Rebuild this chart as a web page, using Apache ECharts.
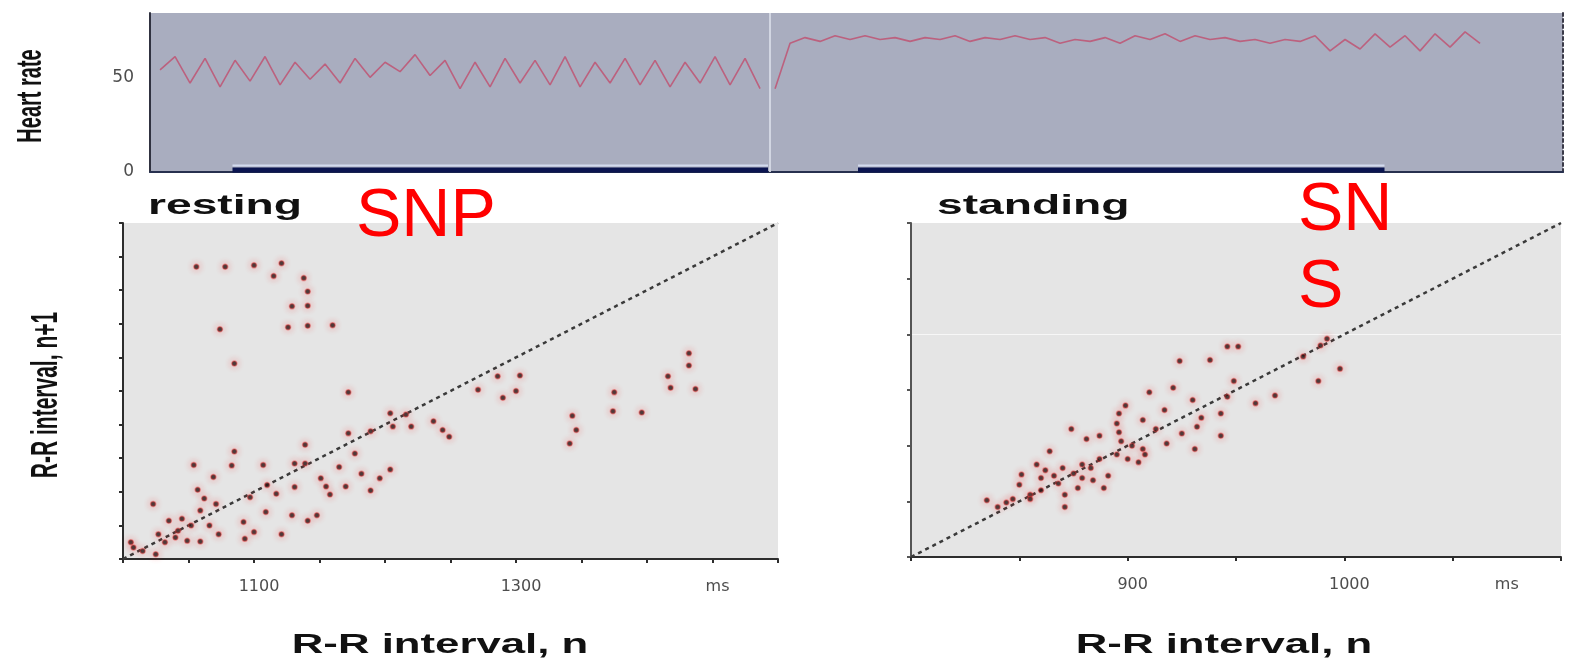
<!DOCTYPE html>
<html>
<head>
<meta charset="utf-8">
<script src="https://cdn.jsdelivr.net/npm/echarts@6/dist/echarts.min.js"></script>
<style>
html, body { margin: 0; padding: 0; background: #fff; }
#main { width: 1570px; height: 661px; }
</style>
</head>
<body>
<div id="main"></div>
<script>
// heart rate, one value per half beat cycle (top strip)
var hrRest = [54, 61, 47, 60, 45, 59, 48, 61, 46, 58, 49, 57, 47, 60, 50, 58, 53, 62, 51, 59, 44,
              58, 45, 60, 47, 59, 46, 61, 45, 58, 47, 60, 46, 59, 45, 58, 47, 61, 46, 60, 44];
var hrStand = [44, 68, 71, 69, 72, 70, 72, 70, 71, 69, 71, 70, 72, 69, 71, 70, 72, 70, 71, 68, 70, 69, 71, 68,
               72, 70, 73, 69, 72, 70, 71, 69, 70, 68, 70, 69, 72, 64, 70, 65, 73, 66, 72, 64, 73, 66, 74, 68];
var hrRestStart = 0.67;
var hrStandStart = 41.67;
var hrSplit = 41.33;
var restMarker = [5.5, 41.2];
var standMarker = [47.2, 82.3];
var hrTicks = [0, 50];

// Poincare plots: R-R interval n vs n+1 (ms)
var restN = [1056, 1078, 1100, 1121, 1115, 1138, 1141, 1129, 1141, 1126, 1141, 1160, 1074, 1085,
             1172, 1271, 1290, 1300, 1286, 1303,
             1216, 1220, 1206, 1237, 1244, 1249, 1204, 1189,
             1343, 1346, 1341, 1375, 1374, 1396, 1416, 1418, 1432, 1432, 1437,
             1177, 1172, 1165, 1139, 1139, 1131, 1107, 1085, 1083, 1054, 1069, 1057,
             1110, 1117, 1131, 1155, 1158, 1170, 1182, 1196, 1204, 1189, 1151,
             1097, 1071, 1023, 1059, 1045, 1035, 1066, 1092, 1109, 1129, 1141, 1148,
             1100, 1121, 1093, 1073, 1049, 1059, 1042, 1027, 1006, 1008, 1025, 1032,
             1052, 1040, 1015, 1062];
var restN1 = [1435, 1435, 1437, 1440, 1421, 1418, 1398, 1376, 1377, 1345, 1347, 1348, 1342, 1291,
              1248, 1252, 1240, 1250, 1272, 1273,
              1215, 1197, 1197, 1205, 1192, 1182, 1217, 1190,
              1213, 1192, 1172, 1248, 1220, 1218, 1272, 1255, 1306, 1288, 1253,
              1157, 1187, 1137, 1170, 1142, 1142, 1140, 1160, 1139, 1140, 1122, 1103,
              1110, 1097, 1107, 1108, 1096, 1108, 1127, 1120, 1133, 1102, 1120,
              1092, 1082, 1082, 1072, 1060, 1057, 1050, 1055, 1070, 1065, 1057, 1065,
              1040, 1037, 1030, 1037, 1027, 1026, 1042, 1037, 1025, 1017, 1007, 1025,
              1050, 1032, 1012, 1090];
var standN = [946, 951, 924, 938, 989, 992, 998, 988, 981, 949, 968, 959, 946, 921, 910, 899, 896, 917,
              907, 930, 943, 932, 925, 896, 874, 881, 887, 931, 943, 907, 908, 895, 887, 879, 870, 883,
              864, 858, 851, 860, 866, 879, 891, 889, 877, 871, 855, 850, 847, 855, 835, 844, 871, 897,
              902, 913, 900, 868, 862, 875, 884, 905, 918, 860, 840, 895, 934];
var standN1 = [989, 989, 976, 977, 990, 996, 969, 958, 980, 958, 945, 938, 944, 952, 948, 936, 929, 932,
               923, 941, 929, 917, 911, 912, 915, 906, 909, 897, 909, 897, 892, 892, 888, 883, 880, 880,
               895, 883, 874, 871, 873, 871, 873, 862, 862, 856, 856, 865, 852, 852, 851, 849, 845, 904,
               900, 915, 888, 866, 878, 875, 869, 885, 902, 860, 845, 920, 925];
var restRange = [1000, 1500];
var standRange = [800, 1100];
var restTickVals = [1100, 1300, 1450];
var restTickText = ['1100', '1300', 'ms'];
var standTickVals = [900, 1000];
var standTickText = ['900', '1000'];
var standUnitAt = 1075;

function pairs(a, b) {
    return a.map(function (v, i) { return [v, b[i]]; });
}
function tickFormatter(vals, texts) {
    return function (v) {
        var k = vals.indexOf(v);
        return k < 0 ? '' : texts[k];
    };
}

var tickLabel = { fontFamily: 'DejaVu Sans', fontSize: 16, color: '#4d4d4d', margin: 20, padding: [0, 0, 0, 10] };
var darkAxis = { lineStyle: { color: '#2d2d2d', width: 2 } };
var darkTick = { show: true, length: 4, inside: false, lineStyle: { color: '#2d2d2d', width: 2 } };
var dotStyle = {
    color: '#1e1414',
    borderColor: 'rgba(235,60,60,0.55)',
    borderWidth: 1.5,
    shadowBlur: 7,
    shadowColor: 'rgba(255,40,40,0.55)'
};

function bigText(str, x, y, opts) {
    return {
        type: 'text',
        x: x, y: y,
        rotation: opts.rotation || 0,
        scaleX: opts.scaleX || 1,
        scaleY: opts.scaleY || 1,
        silent: true,
        style: {
            text: str,
            fill: opts.fill || '#111',
            font: opts.font,
            textAlign: opts.align || 'center', align: opts.align || 'center',
            textVerticalAlign: 'middle', verticalAlign: 'middle'
        }
    };
}

var chart = echarts.init(document.getElementById('main'));
var option = {
    backgroundColor: '#ffffff',
    animation: false,
    grid: [
        { left: 150, right: 7, top: 13, height: 159, show: true, backgroundColor: '#a9adbf', borderWidth: 0 },
        { left: 123, top: 223, width: 655, height: 336, show: true, backgroundColor: '#e5e5e5', borderWidth: 0 },
        { left: 911, top: 223, width: 650, height: 334, show: true, backgroundColor: '#e5e5e5', borderWidth: 0 }
    ],
    xAxis: [
        { gridIndex: 0, type: 'value', min: 0, max: 94.2,
          axisLine: { lineStyle: { color: '#27304f', width: 2 } },
          axisTick: { show: false }, axisLabel: { show: false }, splitLine: { show: false } },
        { gridIndex: 1, type: 'value', min: restRange[0], max: restRange[1], interval: 50,
          axisLine: darkAxis, axisTick: darkTick,
          axisLabel: Object.assign({ formatter: tickFormatter(restTickVals, restTickText) }, tickLabel),
          splitLine: { show: false } },
        { gridIndex: 2, type: 'value', min: standRange[0], max: standRange[1], interval: 50,
          axisLine: darkAxis, axisTick: darkTick,
          axisLabel: Object.assign({ formatter: tickFormatter(standTickVals, standTickText) }, tickLabel),
          splitLine: { show: false } },
        // unit label of the standing plot sits between two ticks
        { gridIndex: 2, type: 'value', min: standRange[0], max: standRange[1], interval: 25, position: 'bottom',
          axisLine: { show: false }, axisTick: { show: false }, splitLine: { show: false },
          axisLabel: Object.assign({}, tickLabel, { padding: 0,
              formatter: function (v) { return v === standUnitAt ? 'ms' : ''; } }) }
    ],
    yAxis: [
        { gridIndex: 0, type: 'value', min: 0, max: 84, interval: 50,
          axisLine: { show: true, lineStyle: { color: '#303240', width: 2 } },
          axisTick: { show: false },
          axisLabel: Object.assign({}, tickLabel, { margin: 16, padding: 0, fontSize: 17,
              formatter: function (v) { return hrTicks.indexOf(v) < 0 ? '' : String(v); } }),
          splitLine: { show: false } },
        { gridIndex: 1, type: 'value', min: restRange[0], max: restRange[1], interval: 50,
          axisLine: darkAxis, axisTick: darkTick, axisLabel: { show: false }, splitLine: { show: false } },
        { gridIndex: 2, type: 'value', min: standRange[0], max: standRange[1], interval: 50,
          axisLine: { lineStyle: { color: '#555', width: 2 } },
          axisTick: { show: true, length: 4, lineStyle: { color: '#555', width: 2 } },
          axisLabel: { show: false },
          splitLine: { show: true, lineStyle: { color: ['rgba(0,0,0,0)', 'rgba(0,0,0,0)', 'rgba(0,0,0,0)', 'rgba(0,0,0,0)', 'rgba(255,255,255,0.7)', 'rgba(0,0,0,0)', 'rgba(0,0,0,0)'] } } },
        { gridIndex: 0, type: 'value', min: 0, max: 84, position: 'right',
          axisLine: { show: true, lineStyle: { color: '#3a3a48', width: 2, type: [3, 3] } },
          axisTick: { show: false }, axisLabel: { show: false }, splitLine: { show: false } }
    ],
    series: [
        { type: 'line', xAxisIndex: 0, yAxisIndex: 0, showSymbol: false,
          data: hrRest.map(function (v, i) { return [hrRestStart + i, v]; }),
          lineStyle: { color: 'rgba(192,78,110,0.8)', width: 1.6 },
          markLine: { silent: true, symbol: 'none', label: { show: false },
              lineStyle: { color: 'rgba(214,218,230,0.9)', width: 2, type: 'solid' },
              data: [{ xAxis: hrSplit }] } },
        { type: 'line', xAxisIndex: 0, yAxisIndex: 0, showSymbol: false,
          data: hrStand.map(function (v, i) { return [hrStandStart + i, v]; }),
          lineStyle: { color: 'rgba(192,78,110,0.8)', width: 1.6 } },
        { type: 'line', xAxisIndex: 0, yAxisIndex: 0, showSymbol: false,
          data: restMarker.map(function (x) { return [x, 3.4]; }),
          lineStyle: { color: '#d3dbef', width: 2 } },
        { type: 'line', xAxisIndex: 0, yAxisIndex: 0, showSymbol: false,
          data: standMarker.map(function (x) { return [x, 3.4]; }),
          lineStyle: { color: '#d3dbef', width: 2 } },
        { type: 'line', xAxisIndex: 0, yAxisIndex: 0, showSymbol: false,
          data: restMarker.map(function (x) { return [x, 1.1]; }),
          lineStyle: { color: '#0b1550', width: 5 } },
        { type: 'line', xAxisIndex: 0, yAxisIndex: 0, showSymbol: false,
          data: standMarker.map(function (x) { return [x, 1.1]; }),
          lineStyle: { color: '#0b1550', width: 5 } },
        // line of identity
        { type: 'line', xAxisIndex: 1, yAxisIndex: 1, showSymbol: false, z: 1,
          data: [[restRange[0], restRange[0]], [restRange[1], restRange[1]]],
          lineStyle: { color: '#3a3a3a', width: 2.5, type: [4, 4] } },
        { type: 'line', xAxisIndex: 2, yAxisIndex: 2, showSymbol: false, z: 1,
          data: [[standRange[0], standRange[0]], [standRange[1], standRange[1]]],
          lineStyle: { color: '#3a3a3a', width: 2.5, type: [4, 4] } },
        { type: 'scatter', xAxisIndex: 1, yAxisIndex: 1, symbolSize: 5, z: 3,
          data: pairs(restN, restN1), itemStyle: dotStyle },
        { type: 'scatter', xAxisIndex: 2, yAxisIndex: 2, symbolSize: 5, z: 3,
          data: pairs(standN, standN1), itemStyle: dotStyle }
    ],
    graphic: [
        bigText('Heart rate', 31, 96, { rotation: Math.PI / 2, scaleY: 1.8, font: 'bold 20px "Liberation Sans"' }),
        bigText('R-R interval, n+1', 47, 395, { rotation: Math.PI / 2, scaleY: 1.8, font: 'bold 21px "Liberation Sans"' }),
        bigText('resting', 148, 206, { align: 'left', scaleX: 1.65, font: 'bold 28px "Liberation Sans"' }),
        bigText('standing', 937, 206, { align: 'left', scaleX: 1.65, font: 'bold 28px "Liberation Sans"' }),
        bigText('R-R interval, n', 440, 646, { scaleX: 1.62, font: 'bold 27px "Liberation Sans"' }),
        bigText('R-R interval, n', 1224, 646, { scaleX: 1.62, font: 'bold 27px "Liberation Sans"' }),
        bigText('SNP', 356, 217, { align: 'left', fill: '#ff0000', font: '68px "Liberation Sans"' }),
        bigText('SN', 1298, 211, { align: 'left', fill: '#ff0000', font: '68px "Liberation Sans"' }),
        bigText('S', 1298, 288, { align: 'left', fill: '#ff0000', font: '68px "Liberation Sans"' })
    ]
};
chart.setOption(option);
window.addEventListener('resize', function () { chart.resize(); });
</script>
</body>
</html>
